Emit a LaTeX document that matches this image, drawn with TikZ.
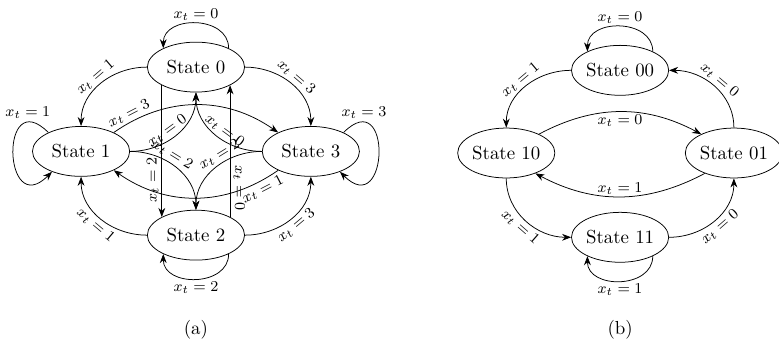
\documentclass[tikz,border=0pt]{standalone}
\usepackage{amsmath}
\usepackage{tikz}
\usetikzlibrary{arrows.meta,shapes}

\begin{document}
\begin{tikzpicture}[stnode/.style={draw,ellipse,minimum width=1.81cm,minimum height=0.93cm,inner sep=0pt},
  lab/.style={font=\footnotesize,sloped,inner sep=1.2pt},
  llab/.style={font=\footnotesize,inner sep=1.5pt}]
\useasboundingbox (0,0) rectangle (14.51,6.43);
% (a)
\node[stnode] (s0) at (3.65,5.18) {State 0};
\node[stnode] (s1) at (1.51,3.61) {State 1};
\node[stnode] (s3) at (5.79,3.61) {State 3};
\node[stnode] (s2) at (3.65,2.05) {State 2};
\node (capa) at (3.65,0.28) {(a)};
\draw[-Stealth](s0.30) to[out=90,in=90,looseness=1.3] node[llab,above]{$x_t=0$} (s0.150);
\draw[-Stealth](s2.-30) to[out=-90,in=-90,looseness=1.3] node[llab,below]{$x_t=2$} (s2.-150);
\draw[-Stealth](s1.150) to[out=135,in=-135,looseness=4.5] node[llab,above,pos=0.17]{$x_t=1$} (s1.-145);
\draw[-Stealth](s3.30) to[out=45,in=-45,looseness=4.5] node[llab,above,pos=0.17]{$x_t=3$} (s3.-35);
\draw[-Stealth](s0.west) to[out=180,in=90] node[lab,above]{$x_t=1$} (s1.north);
\draw[-Stealth](s0.east) to[out=0,in=90] node[lab,above]{$x_t=3$} (s3.north);
\draw[-Stealth](s2.west) to[out=180,in=-90] node[lab,below]{$x_t=1$} (s1.south);
\draw[-Stealth](s2.east) to[out=0,in=-90] node[lab,below]{$x_t=3$} (s3.south);
\draw[-Stealth](s1.30) to[out=35,in=145] node[lab,above,pos=0.12]{$x_t=3$} (s3.150);
\draw[-Stealth](s3.-150) to[out=-145,in=-35] node[lab,below,pos=0.12]{$x_t=1$} (s1.-30);
\draw[-Stealth](s1.east) to[out=0,in=-90] node[lab,above,pos=0.45]{$x_t=0$} (s0.south);
\draw[-Stealth](s3.west) to[out=180,in=-90] node[lab,above,pos=0.45]{$x_t=0$} (s0.south);
\draw[-Stealth](s1.east) to[out=0,in=90] node[lab,above,pos=0.4]{$x_t=2$} (s2.north);
\draw[-Stealth](s3.west) to[out=180,in=90] node[lab,above,pos=0.4]{$x_t=2$} (s2.north);
\draw[-Stealth](s0.-152) -- node[llab,rotate=90,above,pos=0.72]{$x_t=2$} (s2.152);
\draw[-Stealth](s2.28) -- node[llab,rotate=-90,above,pos=0.22]{$x_t=0$} (s0.-28);
% (b)
\node[stnode] (s00) at (11.55,5.12) {State 00};
\node[stnode] (s10) at (9.43,3.58) {State 10};
\node[stnode] (s01) at (13.67,3.58) {State 01};
\node[stnode] (s11) at (11.55,2.01) {State 11};
\node (capb) at (11.55,0.28) {(b)};
\draw[-Stealth](s00.30) to[out=90,in=90,looseness=1.3] node[llab,above]{$x_t=0$} (s00.150);
\draw[-Stealth](s11.-30) to[out=-90,in=-90,looseness=1.3] node[llab,below]{$x_t=1$} (s11.-150);
\draw[-Stealth](s00.west) to[out=180,in=90] node[lab,above]{$x_t=1$} (s10.north);
\draw[-Stealth](s01.north) to[out=90,in=0] node[lab,above]{$x_t=0$} (s00.east);
\draw[-Stealth](s10.30) to[out=28,in=152] node[lab,below]{$x_t=0$} (s01.150);
\draw[-Stealth](s01.-145) to[out=-152,in=-28] node[lab,above]{$x_t=1$} (s10.-35);
\draw[-Stealth](s10.south) to[out=-90,in=180] node[lab,below]{$x_t=1$} (s11.west);
\draw[-Stealth](s11.east) to[out=0,in=-90] node[lab,below]{$x_t=0$} (s01.south);
\end{tikzpicture}
\end{document}
